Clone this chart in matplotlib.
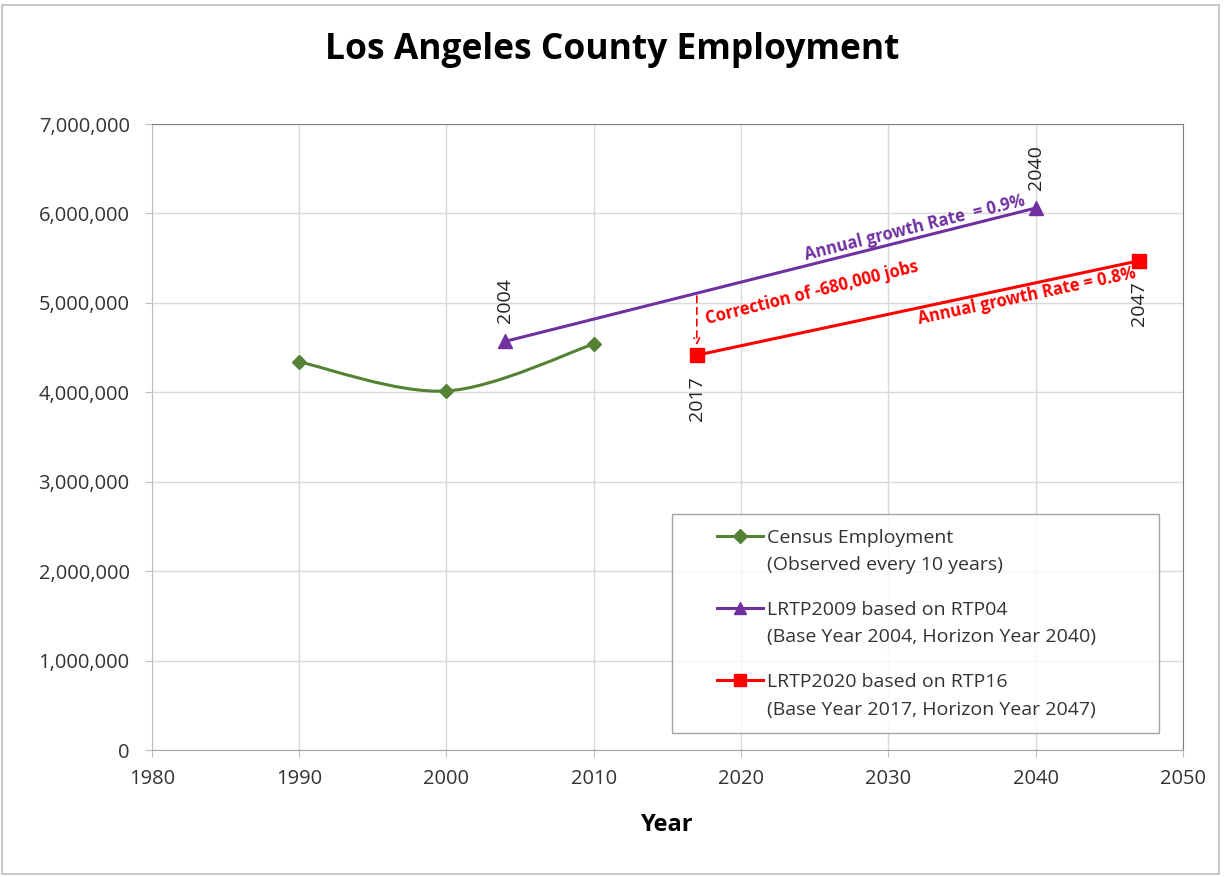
import matplotlib
matplotlib.use("Agg")
from matplotlib import pyplot as plt
from matplotlib.path import Path
from matplotlib.patches import PathPatch, Rectangle
from matplotlib.lines import Line2D
from matplotlib.legend_handler import HandlerLine2D
import matplotlib.ticker as mticker
import numpy as np

plt.rcParams["font.family"] = ["Open Sans", "DejaVu Sans"]

# data
census_years = [1990, 2000, 2010]
census_jobs = [4340000, 4015000, 4540000]

rtp04_years = [2004, 2040]
rtp04_jobs = [4570000, 6060000]

rtp16_years = [2017, 2047]
rtp16_jobs = [4415000, 5470000]

green = "#548235"
purple = "#7030A0"
red = "#FF0000"


class UpHandler(HandlerLine2D):
    # indent the legend line and put it next to the first line of a two-line label
    def create_artists(self, legend, orig_handle, xdescent, ydescent, width, height, fontsize, trans):
        indent = 22.5
        return super().create_artists(legend, orig_handle, xdescent - indent, ydescent - 23,
                                      width - indent, height, fontsize, trans)


fig = plt.figure(figsize=(12.25, 8.77), dpi=100)
ax = fig.add_axes([0.124, 0.1448, 0.8416, 0.7138])

# outer chart border
fig.patches.append(Rectangle((0.002, 0.003), 0.993, 0.991, transform=fig.transFigure,
                             fill=False, edgecolor="#bfbfbf", linewidth=1.2))

# smoothed census line (Excel style bezier through the points)
pts = np.column_stack([census_years, census_jobs]).astype(float)
verts = [pts[0]]
codes = [Path.MOVETO]
n = len(pts)
for i in range(n - 1):
    p_prev = pts[i - 1] if i > 0 else pts[i]
    p_next = pts[i + 2] if i + 2 < n else pts[i + 1]
    c1 = pts[i] + (pts[i + 1] - p_prev) / 6.0
    c2 = pts[i + 1] - (p_next - pts[i]) / 6.0
    verts += [c1, c2, pts[i + 1]]
    codes += [Path.CURVE4] * 3
ax.add_patch(PathPatch(Path(verts, codes), facecolor="none", edgecolor=green, lw=2.2, zorder=3))
ax.plot(census_years, census_jobs, linestyle="None", marker="D", markersize=7.5,
        color=green, zorder=4)

ax.plot(rtp04_years, rtp04_jobs, color=purple, lw=2.2, marker="^", markersize=10, zorder=4)
ax.plot(rtp16_years, rtp16_jobs, color=red, lw=2.2, marker="s", markersize=9.5, zorder=4)

# year labels at the ends
lbl = dict(rotation=90, ha="center", fontsize=14, color="#222222", textcoords="offset points")
ax.annotate("2004", (rtp04_years[0], rtp04_jobs[0]), xytext=(0, 13), va="bottom", **lbl)
ax.annotate("2040", (rtp04_years[1], rtp04_jobs[1]), xytext=(0, 13), va="bottom", **lbl)
ax.annotate("2017", (rtp16_years[0], rtp16_jobs[0]), xytext=(0, -15), va="top", **lbl)
ax.annotate("2047", (rtp16_years[1], rtp16_jobs[1]), xytext=(0, -15), va="top", **lbl)

# correction arrow
y_on_purple = rtp04_jobs[0] + (rtp04_jobs[1] - rtp04_jobs[0]) * (2017 - 2004) / (2040 - 2004)
ax.annotate("", xy=(2017, rtp16_jobs[0] + 80000), xytext=(2017, y_on_purple),
            arrowprops=dict(arrowstyle="->", color=red, lw=1.2, linestyle=(0, (4, 3))))

ax.text(2031.8, 5837000, "Annual growth Rate  = 0.9%", color=purple, fontsize=12,
        fontweight="bold", rotation=14, ha="center", va="center", rotation_mode="anchor")
ax.text(2039.4, 5077000, "Annual growth Rate = 0.8%", color=red, fontsize=12,
        fontweight="bold", rotation=12, ha="center", va="center", rotation_mode="anchor")
ax.text(2024.8, 5110000, "Correction of -680,000 jobs", color=red, fontsize=12,
        fontweight="bold", rotation=14, ha="center", va="center", rotation_mode="anchor")

ax.set_xlim(1980, 2050)
ax.set_ylim(0, 7000000)
ax.set_xticks(np.arange(1980, 2051, 10))
ax.set_yticks(np.arange(0, 7000001, 1000000))
ax.yaxis.set_major_formatter(mticker.FuncFormatter(lambda v, p: f"{int(v):,}"))
ax.grid(color="#d9d9d9", lw=1)
ax.set_axisbelow(True)
ax.spines["left"].set_color("#bfbfbf")
ax.spines["bottom"].set_color("#a6a6a6")
ax.spines["top"].set_color("#808080")
ax.spines["right"].set_color("#808080")
ax.tick_params(labelsize=14.5, colors="#bfbfbf", labelcolor="#333333", length=5)
ax.tick_params(axis="y", pad=11)
ax.tick_params(axis="x", pad=9)

ax.set_xlabel("Year", fontsize=17, fontweight="bold", labelpad=17)
fig.text(0.5, 0.943, "Los Angeles County Employment", ha="center", va="center",
         fontsize=25.5, fontweight="bold")

handles = [
    Line2D([], [], color=green, lw=2.2, marker="D", markersize=7),
    Line2D([], [], color=purple, lw=2.2, marker="^", markersize=9),
    Line2D([], [], color=red, lw=2.2, marker="s", markersize=8),
]
labels = [
    "Census Employment\n(Observed every 10 years)",
    "LRTP2009 based on RTP04\n(Base Year 2004, Horizon Year 2040)",
    "LRTP2020 based on RTP16\n(Base Year 2017, Horizon Year 2047)",
]
leg = ax.legend(handles, labels, loc="lower left", bbox_to_anchor=(0.504, 0.027, 0.473, 0.35),
                mode="expand", fontsize=14, frameon=True, fancybox=False, handlelength=3.95,
                handletextpad=0.2, labelspacing=1.4, borderpad=0.75, borderaxespad=0,
                handler_map={Line2D: UpHandler()})
for t in leg.get_texts():
    t.set_linespacing(1.65)
    t.set_color("#333333")
leg.get_frame().set_edgecolor("#8c8c8c")
leg.get_frame().set_linewidth(1.0)

plt.savefig("out.png", dpi=100)
